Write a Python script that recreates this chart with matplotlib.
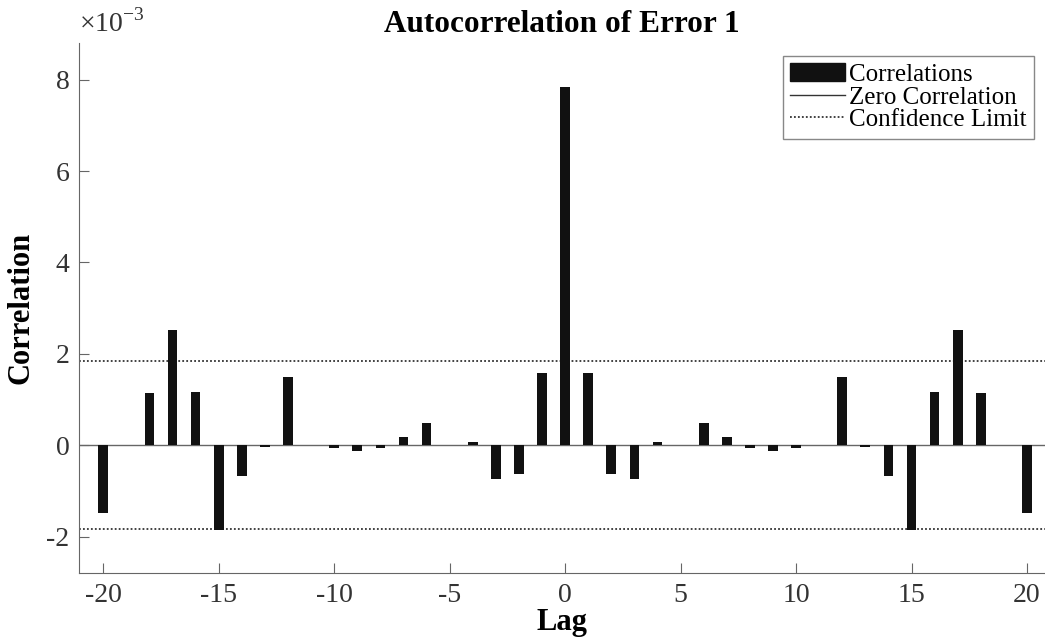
import numpy as np
import matplotlib.pyplot as plt
from matplotlib.patches import Patch
from matplotlib.lines import Line2D

plt.rcParams['font.family'] = ['Liberation Serif', 'DejaVu Serif']
plt.rcParams['mathtext.fontset'] = 'custom'
plt.rcParams['mathtext.rm'] = 'Liberation Serif'
plt.rcParams['axes.unicode_minus'] = False

# autocorrelation values, in units of 1e-3
lags = list(range(-20, 21))
corr = [-1.49, 0.00, 1.14, 2.53, 1.16, -1.85, -0.68, -0.03, 1.50, 0.00,
        -0.07, -0.12, -0.07, 0.19, 0.48, 0.00, 0.06, -0.74, -0.62, 1.59,
        7.85,
        1.59, -0.62, -0.74, 0.06, 0.00, 0.48, 0.19, -0.07, -0.12, -0.07,
        0.00, 1.50, -0.03, -0.68, -1.85, 1.16, 2.53, 1.14, 0.00, -1.49]
conf_limit = 1.84
scale_exp = -3

fig = plt.figure(figsize=(10.45, 6.44), dpi=100)
ax = fig.add_axes([0.0756, 0.110, 0.9244, 0.823])

ax.bar(lags, corr, width=0.42, color='#111111', label='Correlations', zorder=3)
ax.axhline(0, color='#666666', linewidth=1.0, zorder=2)
ax.axhline(conf_limit, color='#333333', linestyle=(0, (1, 1.2)), linewidth=1.3)
ax.axhline(-conf_limit, color='#333333', linestyle=(0, (1, 1.2)), linewidth=1.3)

ax.set_xlim(-21.05, 20.78)
ax.set_ylim(-2.8, 8.8)
ax.set_xticks(range(-20, 21, 5))
ax.set_yticks(range(-2, 9, 2))

for s in ['top', 'right']:
    ax.spines[s].set_visible(False)
for s in ['left', 'bottom']:
    ax.spines[s].set_color('#666666')
ax.tick_params(direction='in', length=7, color='#666666', labelcolor='#333333',
               labelsize=20, pad=7)

ax.set_title('Autocorrelation of Error 1', fontsize=22.5, fontweight='bold', pad=8)
ax.set_xlabel('Lag', fontsize=22, fontweight='bold', labelpad=0)
ax.set_ylabel('Correlation', fontsize=22, fontweight='bold', labelpad=8)
ax.text(0.0, 1.01, r'$\times10^{%d}$' % scale_exp, transform=ax.transAxes,
        fontsize=20, color='#333333', ha='left', va='bottom')

handles = [Patch(facecolor='#111111', edgecolor='#111111'),
           Line2D([], [], color='#333333', linewidth=1.0),
           Line2D([], [], color='#333333', linestyle=(0, (1, 1.2)), linewidth=1.3)]
leg = ax.legend(handles, ['Correlations', 'Zero Correlation', 'Confidence Limit'],
                loc='upper right', bbox_to_anchor=(0.9885, 0.976), fontsize=18,
                fancybox=False, edgecolor='#888888', framealpha=1,
                handlelength=2.2, handleheight=0.72, handletextpad=0.15,
                labelspacing=0.0, borderpad=0.3, borderaxespad=0)
leg.get_frame().set_linewidth(1.0)

fig.savefig('out.png', dpi=100)
